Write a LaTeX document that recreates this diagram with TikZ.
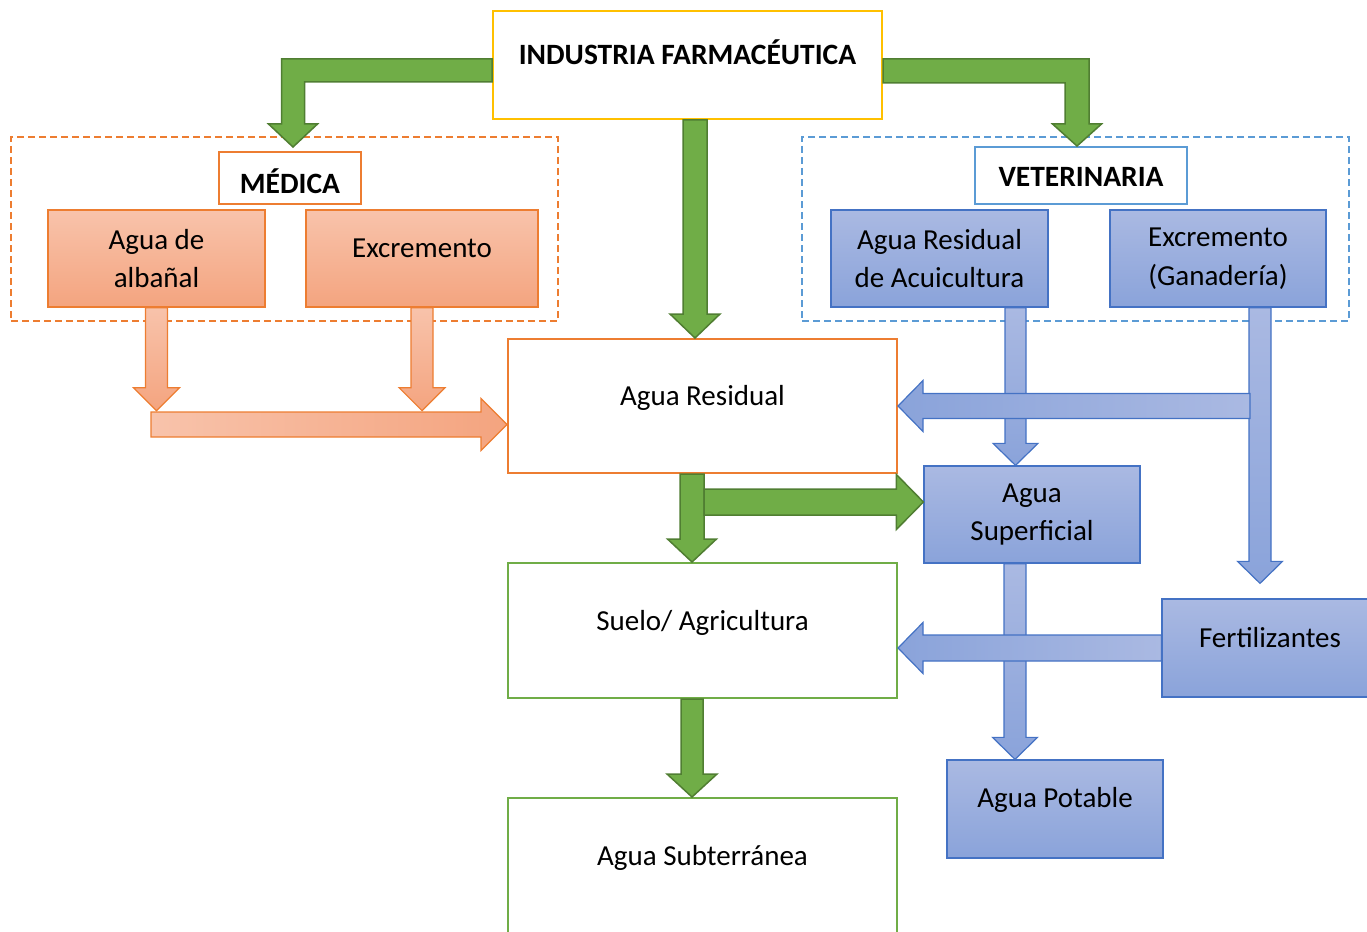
\documentclass[tikz,border=0pt]{standalone}
\usepackage{fontspec}
\setmainfont{Carlito}
\usetikzlibrary{calc}
\definecolor{grn}{HTML}{70AD47}
\definecolor{grnd}{HTML}{507E32}
\definecolor{org}{HTML}{ED7D31}
\definecolor{orgT}{HTML}{F8C3AB}
\definecolor{orgB}{HTML}{F4A47F}
\definecolor{blu}{HTML}{4472C4}
\definecolor{bluT}{HTML}{AAB9E2}
\definecolor{bluB}{HTML}{8AA3DA}
\definecolor{ylw}{HTML}{FFC000}
\definecolor{lblu}{HTML}{5B9BD5}
% down arrow: style, tail, tip, half shaft, half head, head length
\newcommand\arrDn[6]{\path[#1] let \p1=(#2), \p2=(#3) in
  (\x1-#4,\y1) -- (\x1+#4,\y1) -- (\x1+#4,\y2+#6) -- (\x1+#5,\y2+#6) -- (\x1,\y2)
  -- (\x1-#5,\y2+#6) -- (\x1-#4,\y2+#6) -- cycle;}
\newcommand\arrLt[6]{\path[#1] let \p1=(#2), \p2=(#3) in
  (\x1,\y1+#4) -- (\x2+#6,\y1+#4) -- (\x2+#6,\y1+#5) -- (\x2,\y1)
  -- (\x2+#6,\y1-#5) -- (\x2+#6,\y1-#4) -- (\x1,\y1-#4) -- cycle;}
\newcommand\arrRt[6]{\path[#1] let \p1=(#2), \p2=(#3) in
  (\x1,\y1+#4) -- (\x2-#6,\y1+#4) -- (\x2-#6,\y1+#5) -- (\x2,\y1)
  -- (\x2-#6,\y1-#5) -- (\x2-#6,\y1-#4) -- (\x1,\y1-#4) -- cycle;}
% elbow arrows: horizontal then down
\newcommand\elbL[6]{\path[#1] let \p1=(#2), \p2=(#3) in
  (\x1,\y1+#4) -- (\x2-#4,\y1+#4) -- (\x2-#4,\y2+#6) -- (\x2-#5,\y2+#6) -- (\x2,\y2)
  -- (\x2+#5,\y2+#6) -- (\x2+#4,\y2+#6) -- (\x2+#4,\y1-#4) -- (\x1,\y1-#4) -- cycle;}
\newcommand\elbR[6]{\path[#1] let \p1=(#2), \p2=(#3) in
  (\x1,\y1+#4) -- (\x2+#4,\y1+#4) -- (\x2+#4,\y2+#6) -- (\x2+#5,\y2+#6) -- (\x2,\y2)
  -- (\x2-#5,\y2+#6) -- (\x2-#4,\y2+#6) -- (\x2-#4,\y1-#4) -- (\x1,\y1-#4) -- cycle;}
\begin{document}
\begin{tikzpicture}[x=1pt,y=-1pt,
  font=\fontsize{29}{38.5}\selectfont,
  box/.style={rectangle, inner sep=0pt, align=center, line width=2pt},
  whitebox/.style={box, fill=white},
  orgbox/.style={box, line width=1.3pt, draw=org, top color=orgT, bottom color=orgB},
  blubox/.style={box, line width=1.3pt, draw=blu, top color=bluT, bottom color=bluB},
  group/.style={box, dash pattern=on 7pt off 4pt},
  boldtext/.style={font=\bfseries\fontsize{29.5}{34}\selectfont},
  garrow/.style={draw=grnd, fill=grn, line width=1.5pt, line join=miter},
  oarrowv/.style={draw=org, line width=1.2pt, top color=orgT, bottom color=orgB},
  oarrowh/.style={draw=org, line width=1.2pt, left color=orgT, right color=orgB},
  barrowv/.style={draw=blu, line width=1.2pt, top color=bluT, bottom color=bluB},
  barrowh/.style={draw=blu, line width=1.2pt, left color=bluB, right color=bluT}
]
\useasboundingbox (0,0) rectangle (1367,931);
\clip (0,0) rectangle (1367,931);

% groups (dashed)
\node[group, draw=org, minimum width=547, minimum height=184] (medg) at (284.5,229) {};
\node[group, draw=lblu, minimum width=547, minimum height=184] (vetg) at (1075.5,229) {};

% boxes
\node[whitebox, draw=ylw, minimum width=389, minimum height=108,
  label={[yshift=13pt, boldtext]center:INDUSTRIA FARMACÉUTICA}] (top) at (687.5,65) {};
\node[whitebox, draw=org, minimum width=142, minimum height=52,
  label={[yshift=-3pt, boldtext]center:MÉDICA}] (medlabel) at (290,178) {};
\node[whitebox, draw=lblu, minimum width=212, minimum height=57,
  label={[yshift=-1pt, boldtext]center:VETERINARIA}] (vetlabel) at (1081,175.5) {};
\node[orgbox, minimum width=217, minimum height=97] (alb) at (156.5,258.5) {Agua de\\albañal};
\node[orgbox, minimum width=232, minimum height=97,
  label={[yshift=10pt]center:Excremento}] (exc) at (422,258.5) {};
\node[blubox, minimum width=217, minimum height=97] (acu) at (939.5,258.5) {Agua Residual\\de Acuicultura};
\node[blubox, minimum width=216, minimum height=97] (gan) at (1218,258.5) {Excremento\\(Ganadería)};
\node[whitebox, draw=org, minimum width=389, minimum height=134,
  label={[yshift=8pt]center:Agua Residual}] (res) at (702.5,406) {};
\node[blubox, minimum width=216, minimum height=97] (sup) at (1032,514.5) {Agua\\Superficial};
\node[whitebox, draw=grn, minimum width=389, minimum height=135,
  label={[yshift=8pt]center:Suelo/ Agricultura}] (suelo) at (702.5,630.5) {};
\node[blubox, minimum width=216, minimum height=98,
  label={[yshift=10pt]center:Fertilizantes}] (fert) at (1270,648) {};
\node[whitebox, draw=grn, minimum width=389, minimum height=135,
  label={[yshift=8pt]center:Agua Subterránea}] (sub) at (702.5,865.5) {};
\node[blubox, minimum width=216, minimum height=98,
  label={[yshift=9pt]center:Agua Potable}] (pot) at (1055,809) {};

% coordinates for connector ends
\coordinate (mtip) at ([xshift=3pt,yshift=4pt]medlabel.north);
\coordinate (vtip) at ([xshift=-4pt]vetlabel.north);
\coordinate (otail) at (151,424.5);
\coordinate (btail) at ([xshift=32pt]gan.south |- res.east);
\coordinate (gtip) at ([yshift=12.5pt]sup.west);
\coordinate (gtail) at ([xshift=1.5pt]res.south |- gtip);

% green arrows from the industry
\elbL{garrow}{[yshift=-5.5pt]top.west}{mtip}{11.5pt}{24.5pt}{23pt}
\elbR{garrow}{[yshift=-6pt]top.east}{vtip}{12pt}{24.5pt}{22pt}
\arrDn{garrow}{[xshift=7.5pt]top.south}{[xshift=-7.5pt]res.north}{12pt}{25pt}{24pt}

% orange arrows
\arrDn{oarrowv}{alb.south}{[yshift=-103pt]alb.south}{11pt}{23pt}{23pt}
\arrDn{oarrowv}{exc.south}{[yshift=-103pt]exc.south}{11pt}{23pt}{23pt}
\arrRt{oarrowh}{otail}{res.west}{12.5pt}{26pt}{26pt}

% blue arrows
\arrDn{barrowv}{[xshift=76pt]acu.south}{[xshift=-16pt]sup.north}{10.5pt}{22.5pt}{22pt}
\arrDn{barrowv}{[xshift=42pt]gan.south}{[xshift=-11pt,yshift=15pt]fert.north}{11pt}{22.5pt}{22pt}
\arrLt{barrowh}{btail}{res.east}{12.5pt}{25.5pt}{25pt}
\arrDn{barrowv}{[xshift=-17pt]sup.south}{[xshift=-40pt]pot.north}{11pt}{22.5pt}{22pt}
\arrLt{barrowh}{fert.west}{suelo.east}{13pt}{25.5pt}{25pt}

% green arrows below
\arrDn{garrow}{[xshift=-10.5pt]res.south}{[xshift=-10.5pt]suelo.north}{12pt}{24.5pt}{23pt}
\arrRt{garrow}{gtail}{gtip}{13pt}{27.5pt}{27pt}
\arrDn{garrow}{[xshift=-10.5pt]suelo.south}{[xshift=-10.5pt]sub.north}{11pt}{25pt}{23pt}
\end{tikzpicture}
\end{document}
